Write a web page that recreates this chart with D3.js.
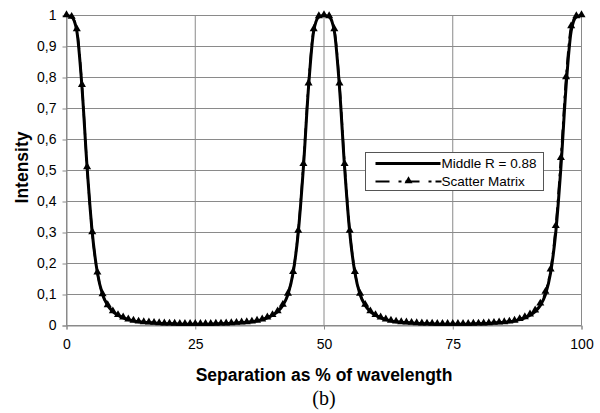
<!DOCTYPE html>
<html>
<head>
<meta charset="utf-8">
<script src="https://cdn.jsdelivr.net/npm/d3@7"></script>
<style>
  body { margin: 0; background: #fff; }
  svg { display: block; }
</style>
</head>
<body>
<div id="container"></div>
<script>
// separation (% of wavelength)
const separation = [
    0, 1, 2, 3, 4, 5, 6, 7, 8, 9, 10, 11, 12, 13, 14, 15, 16, 17, 18, 19,
    20, 21, 22, 23, 24, 25, 26, 27, 28, 29, 30, 31, 32, 33, 34, 35, 36, 37, 38, 39,
    40, 41, 42, 43, 44, 45, 46, 47, 48, 49, 50, 51, 52, 53, 54, 55, 56, 57, 58, 59,
    60, 61, 62, 63, 64, 65, 66, 67, 68, 69, 70, 71, 72, 73, 74, 75, 76, 77, 78, 79,
    80, 81, 82, 83, 84, 85, 86, 87, 88, 89, 90, 91, 92, 93, 94, 95, 96, 97, 98, 99, 100
]

const middleR = [
    1, 0.995, 0.95, 0.77, 0.51, 0.30, 0.17, 0.10, 0.065, 0.045,
    0.033, 0.025, 0.019, 0.015, 0.012, 0.010, 0.009, 0.008, 0.007, 0.006,
    0.0055, 0.005, 0.0045, 0.004, 0.004, 0.004, 0.004, 0.004, 0.0045, 0.005,
    0.0055, 0.006, 0.007, 0.008, 0.009, 0.010, 0.012, 0.015, 0.019, 0.025,
    0.033, 0.045, 0.065, 0.10, 0.17, 0.30, 0.51, 0.77, 0.95, 0.995,
    1, 0.995, 0.95, 0.77, 0.51, 0.30, 0.17, 0.10, 0.065, 0.045,
    0.033, 0.025, 0.019, 0.015, 0.012, 0.010, 0.009, 0.008, 0.007, 0.006,
    0.0055, 0.005, 0.0045, 0.004, 0.004, 0.004, 0.004, 0.004, 0.0045, 0.005,
    0.0055, 0.006, 0.007, 0.008, 0.009, 0.010, 0.012, 0.015, 0.019, 0.025,
    0.033, 0.045, 0.065, 0.10, 0.17, 0.30, 0.51, 0.77, 0.95, 0.995, 1
]

const scatterMatrix = [
    1, 0.995, 0.955, 0.775, 0.51, 0.30, 0.17, 0.10, 0.065, 0.045,
    0.033, 0.025, 0.019, 0.015, 0.012, 0.010, 0.009, 0.008, 0.007, 0.006,
    0.0055, 0.005, 0.0045, 0.004, 0.004, 0.004, 0.004, 0.004, 0.0045, 0.005,
    0.0055, 0.006, 0.007, 0.008, 0.009, 0.010, 0.012, 0.015, 0.019, 0.025,
    0.033, 0.045, 0.066, 0.102, 0.172, 0.305, 0.52, 0.78, 0.955, 0.997,
    1, 0.997, 0.955, 0.78, 0.52, 0.305, 0.172, 0.102, 0.066, 0.045,
    0.033, 0.025, 0.019, 0.015, 0.012, 0.010, 0.009, 0.008, 0.007, 0.006,
    0.0055, 0.005, 0.0045, 0.004, 0.004, 0.004, 0.004, 0.004, 0.0045, 0.005,
    0.0055, 0.006, 0.007, 0.008, 0.009, 0.010, 0.012, 0.015, 0.020, 0.026,
    0.035, 0.048, 0.07, 0.108, 0.18, 0.32, 0.54, 0.80, 0.965, 0.997, 1
]

const xTicks = [0, 25, 50, 75, 100]
const yTicks = [0, 0.1, 0.2, 0.3, 0.4, 0.5, 0.6, 0.7, 0.8, 0.9, 1]

const seriesNames = ["Middle R = 0.88", "Scatter Matrix"]

const width = 600
const height = 413

const margin = {
    left: 66.5,
    top: 15.5,
    right: 18.5,
    bottom: 87.5,
};

const gridColor = "#8a8a8a"
const dashPattern = "13,5,3,5"

const svg = d3.select('#container')
    .append('svg').attr('width', width).attr('height', height)
    .style("font-family", "'Liberation Sans', Arial, sans-serif")

const xScale = d3.scaleLinear().domain([0, 100]).range([margin.left, width - margin.right])
const yScale = d3.scaleLinear().domain([0, 1]).range([height - margin.bottom, margin.top])

// grid
svg.append("g").selectAll("line").data(yTicks).join("line")
    .attr("x1", xScale(0)).attr("x2", xScale(100))
    .attr("y1", d => yScale(d)).attr("y2", d => yScale(d))
    .attr("stroke", gridColor).attr("stroke-width", 1)

svg.append("g").selectAll("line").data(xTicks).join("line")
    .attr("x1", d => xScale(d)).attr("x2", d => xScale(d))
    .attr("y1", yScale(0)).attr("y2", yScale(1))
    .attr("stroke", gridColor).attr("stroke-width", 1)

// axes
const xAxis = d3.axisBottom(xScale).tickValues(xTicks).tickSize(4).tickPadding(10)
    .tickFormat(d3.format("d"))
const yAxis = d3.axisLeft(yScale).tickValues(yTicks).tickSize(4).tickPadding(6)
    .tickFormat(d => d === 0 ? "0" : d === 1 ? "1" : d3.format(".1f")(d).replace(".", ","))

const gx = svg.append("g").attr("transform", `translate(0,${yScale(0)})`).call(xAxis)
const gy = svg.append("g").attr("transform", `translate(${xScale(0)},0)`).call(yAxis)

;[gx, gy].forEach(g => {
    g.select(".domain").attr("stroke", gridColor)
    g.selectAll(".tick line").attr("stroke", gridColor)
    g.selectAll("text").attr("fill", "#000").style("font-size", "14px")
        .style("font-family", "'Liberation Sans', Arial, sans-serif")
})

// lines
const points1 = separation.map((x, i) => [x, middleR[i]])
const points2 = separation.map((x, i) => [x, scatterMatrix[i]])

const line = d3.line()
    .x(d => xScale(d[0]))
    .y(d => yScale(d[1]))
    .curve(d3.curveMonotoneX)

svg.append("path")
    .attr("d", line(points2))
    .attr("fill", "none")
    .attr("stroke", "#000")
    .attr("stroke-width", 2.2)
    .attr("stroke-dasharray", dashPattern)

svg.append("path")
    .attr("d", line(points1))
    .attr("fill", "none")
    .attr("stroke", "#000")
    .attr("stroke-width", 3)

const triangle = d3.symbol().type(d3.symbolTriangle).size(28)

svg.append("g").selectAll("path").data(points2).join("path")
    .attr("d", triangle)
    .attr("transform", d => `translate(${xScale(d[0])},${yScale(d[1]) - 0.5})`)
    .attr("fill", "#000")

// legend
const legend = svg.append("g").attr("transform", "translate(365.5,152.5)")
legend.append("rect")
    .attr("width", 178).attr("height", 38)
    .attr("fill", "#fff").attr("stroke", "#555").attr("stroke-width", 1)

legend.append("line")
    .attr("x1", 10).attr("x2", 75).attr("y1", 11).attr("y2", 11)
    .attr("stroke", "#000").attr("stroke-width", 3)
legend.append("line")
    .attr("x1", 10).attr("x2", 76).attr("y1", 29).attr("y2", 29)
    .attr("stroke", "#000").attr("stroke-width", 2.2)
    .attr("stroke-dasharray", "14,9,3,4")
legend.append("path")
    .attr("d", triangle)
    .attr("transform", "translate(43,28.5)")
    .attr("fill", "#000")

legend.selectAll("text.lbl").data(seriesNames).join("text")
    .attr("class", "lbl")
    .attr("x", 76)
    .attr("y", (d, i) => 11 + i * 18)
    .attr("dy", "0.35em")
    .style("font-size", "13.5px")
    .text(d => d)

// titles
svg.append("text")
    .attr("x", (xScale(0) + xScale(100)) / 2)
    .attr("y", 381)
    .attr("text-anchor", "middle")
    .style("font-size", "17.5px")
    .style("font-weight", "bold")
    .text("Separation as % of wavelength")

svg.append("text")
    .attr("transform", `translate(28,${yScale(0.5) - 3}) rotate(-90)`)
    .attr("text-anchor", "middle")
    .style("font-size", "17.5px")
    .style("font-weight", "bold")
    .text("Intensity")

svg.append("text")
    .attr("x", (xScale(0) + xScale(100)) / 2)
    .attr("y", 405)
    .attr("text-anchor", "middle")
    .style("font-family", "'Liberation Serif', 'Times New Roman', serif")
    .style("font-size", "20px")
    .text("(b)")
</script>
</body>
</html>
